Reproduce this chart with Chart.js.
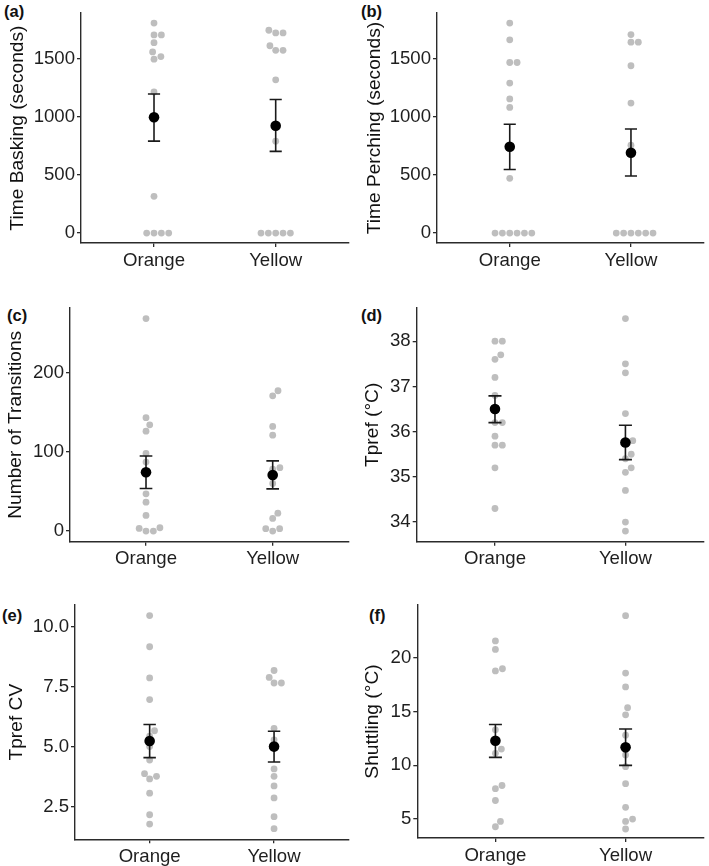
<!DOCTYPE html>
<html>
<head>
<meta charset="utf-8">
<script src="https://cdn.jsdelivr.net/npm/chart.js@4.4.1/dist/chart.umd.min.js"></script>
<style>
  body { margin: 0; background: #fff; width: 709px; height: 866px; position: relative; overflow: hidden; font-family: "Liberation Sans", Arial, sans-serif; }
  canvas { position: absolute; }
  .tag { position: absolute; font-weight: bold; font-size: 16.5px; line-height: 1; color: #111; }
</style>
</head>
<body>
<div class="tag" style="left:4px;top:3px">(a)</div>
<div class="tag" style="left:361px;top:3px">(b)</div>
<div class="tag" style="left:7px;top:307px">(c)</div>
<div class="tag" style="left:361px;top:307px">(d)</div>
<div class="tag" style="left:2px;top:607px">(e)</div>
<div class="tag" style="left:369px;top:607px">(f)</div>
<script>
const groups = ["Orange", "Yellow"];

// (a) time basking
const baskOrange = [1805, 1703, 1703, 1636, 1557, 1517, 1495, 1213, 316, 0, 0, 0, 0];
const baskYellow = [1743, 1720, 1720, 1610, 1571, 1571, 1317, 790, 0, 0, 0, 0, 0];
const baskMean = [995, 922];
const baskLow = [790, 702];
const baskHigh = [1195, 1148];
const baskTicks = [0, 500, 1000, 1500];

// (b) time perching
const perchOrange = [1805, 1661, 1466, 1466, 1289, 1153, 1080, 471, 0, 0, 0, 0, 0, 0];
const perchYellow = [1706, 1641, 1641, 1438, 1117, 756, 0, 0, 0, 0, 0, 0];
const perchMean = [742, 691];
const perchLow = [547, 491];
const perchHigh = [936, 894];
const perchTicks = [0, 500, 1000, 1500];

// (c) number of transitions
const transOrange = [268, 143, 134, 126, 98, 87, 47, 36.5, 19.7, 4.2, 3.4, 0, 0];
const transYellow = [177, 170.6, 132, 121, 80, 78, 60, 22.6, 16, 3, 3, 0];
const transMean = [74.2, 70.8];
const transLow = [53.7, 53.2];
const transHigh = [94.8, 88.5];
const transTicks = [0, 100, 200];

// (d) Tpref
const tprefOrange = [38.0, 38.0, 37.7, 37.6, 37.2, 36.8, 36.2, 36.2, 35.9, 35.7, 35.7, 35.2, 34.3];
const tprefYellow = [38.5, 37.5, 37.3, 36.4, 35.8, 35.8, 35.5, 35.4, 35.2, 35.1, 34.7, 34.0, 33.8];
const tprefMean = [36.5, 35.76];
const tprefLow = [36.2, 35.38];
const tprefHigh = [36.79, 36.14];
const tprefTicks = [34, 35, 36, 37, 38];

// (e) Tpref CV
const cvOrange = [10.48, 9.18, 7.88, 6.98, 5.68, 5.45, 5.02, 4.46, 3.89, 3.78, 3.67, 3.08, 2.18, 1.79];
const cvYellow = [8.19, 7.9, 7.67, 7.67, 5.78, 5.3, 4.09, 3.78, 3.38, 2.88, 2.1, 1.6];
const cvMean = [5.25, 5.02];
const cvLow = [4.56, 4.38];
const cvHigh = [5.94, 5.66];
const cvTicks = [2.5, 5.0, 7.5, 10.0];
const cvTickLabels = ["2.5", "5.0", "7.5", "10.0"];

// (f) shuttling
const shutOrange = [21.6, 20.8, 19.0, 18.8, 13.3, 12.4, 11.5, 11.1, 8.1, 7.8, 6.7, 4.75, 4.25];
const shutYellow = [23.95, 18.6, 17.3, 15.36, 14.7, 12.8, 10.95, 9.86, 8.27, 6.06, 4.97, 4.75, 4.04];
const shutMean = [12.28, 11.66];
const shutLow = [10.73, 9.98];
const shutHigh = [13.8, 13.37];
const shutTicks = [5, 10, 15, 20];

const TEXT = "#1e1e1e";
const AXIS = "#2b2b2b";
const DOT_GAP = 7.35; // px between jittered dot centres

const panels = [
  { title: "Time Basking (seconds)", sets: [baskOrange, baskYellow], mean: baskMean, low: baskLow, high: baskHigh,
    ticks: baskTicks, labels: baskTicks.map(String), min: -85, max: 1890,
    box: [0, 0, 354, 280], yW: 81, top: 10, right: 4, xH: 37, tPad: 6 },
  { title: "Time Perching (seconds)", sets: [perchOrange, perchYellow], mean: perchMean, low: perchLow, high: perchHigh,
    ticks: perchTicks, labels: perchTicks.map(String), min: -85, max: 1890,
    box: [354, 0, 355, 280], yW: 83, top: 10, right: 2, xH: 37, tPad: 9 },
  { title: "Number of Transitions", sets: [transOrange, transYellow], mean: transMean, low: transLow, high: transHigh,
    ticks: transTicks, labels: transTicks.map(String), min: -13.4, max: 281.4,
    box: [0, 280, 354, 290], yW: 70, top: 28, right: 4, xH: 28.3, tPad: 4.5 },
  { title: "Tpref (°C)", sets: [tprefOrange, tprefYellow], mean: tprefMean, low: tprefLow, high: tprefHigh,
    ticks: tprefTicks, labels: tprefTicks.map(String), min: 33.565, max: 38.735,
    box: [354, 280, 355, 290], yW: 62.7, top: 28, right: 2, xH: 28.3, tPad: 7.5 },
  { title: "Tpref CV", sets: [cvOrange, cvYellow], mean: cvMean, low: cvLow, high: cvHigh,
    ticks: cvTicks, labels: cvTickLabels, min: 1.156, max: 10.92,
    box: [0, 570, 354, 296], yW: 75, top: 35, right: 4, xH: 26.7, tPad: 5.5 },
  { title: "Shuttling (°C)", sets: [shutOrange, shutYellow], mean: shutMean, low: shutLow, high: shutHigh,
    ticks: shutTicks, labels: shutTicks.map(String), min: 3.2, max: 24.95,
    box: [354, 570, 355, 296], yW: 63.3, top: 35, right: 2, xH: 28, tPad: 7.5 }
];

// beeswarm: place points in ascending order, nearest free offset to the centre, right side first
function swarm(pys, d) {
  const order = pys.map((_, i) => i).sort((a, b) => pys[b] - pys[a]);
  const placed = [];
  const offs = new Array(pys.length).fill(0);
  order.forEach(i => {
    const y = pys[i];
    const cands = [0];
    placed.forEach(p => {
      const dy = Math.abs(p.y - y);
      if (dy < d) {
        const h = Math.sqrt(d * d - dy * dy);
        cands.push(p.x + h, p.x - h);
      }
    });
    let best = null;
    cands.forEach(c => {
      const ok = placed.every(p => Math.hypot(p.x - c, p.y - y) >= d - 1e-6);
      if (ok && (best === null || Math.abs(c) < Math.abs(best) - 1e-9)) best = c;
    });
    offs[i] = best;
    placed.push({ x: best, y });
  });
  return offs;
}

function segment(x0, y0, x1, y1) {
  return { data: [{ x: x0, y: y0 }, { x: x1, y: y1 }], showLine: true, borderColor: "#1a1a1a",
           borderWidth: 1.6, pointRadius: 0, order: 1 };
}

function makeChart(p) {
  const [left, top, w, h] = p.box;
  const cv = document.createElement("canvas");
  cv.width = w; cv.height = h;
  cv.style.left = left + "px"; cv.style.top = top + "px";
  document.body.appendChild(cv);

  const datasets = [];
  // grey individual points
  p.sets.forEach((vals, g) => {
    datasets.push({ data: vals.map(v => ({ x: g + 1, y: v })), pointRadius: 3.4,
                    backgroundColor: "#bebebe", borderWidth: 0, order: 2 });
  });
  // error bars
  const cap = 0.05;
  p.mean.forEach((m, g) => {
    const x = g + 1;
    datasets.push(segment(x, p.low[g], x, p.high[g]));
    datasets.push(segment(x - cap, p.high[g], x + cap, p.high[g]));
    datasets.push(segment(x - cap, p.low[g], x + cap, p.low[g]));
  });
  // means
  datasets.push({ data: p.mean.map((m, g) => ({ x: g + 1, y: m })), pointRadius: 5.3,
                  backgroundColor: "#000", borderWidth: 0, order: 0 });

  const gridOpts = { drawOnChartArea: false, drawTicks: true, tickLength: 4, color: AXIS, lineWidth: 1.3 };
  const borderOpts = { display: true, color: AXIS, width: 1.4 };
  const tickFont = { family: "Liberation Sans", size: 18.6 };

  const chart = new Chart(cv.getContext("2d"), {
    type: "scatter",
    data: { datasets },
    options: {
      responsive: false, animation: false, devicePixelRatio: 1, events: [],
      layout: { padding: { left: 0, top: p.top, right: p.right, bottom: 0 } },
      plugins: { legend: { display: false }, tooltip: { enabled: false } },
      scales: {
        x: {
          type: "linear", min: 0.4, max: 2.6,
          afterBuildTicks: s => { s.ticks = groups.map((_, i) => ({ value: i + 1 })); },
          afterFit: s => { s.height = p.xH; },
          ticks: { callback: (v, i) => groups[i], color: TEXT, font: tickFont, padding: 2.5, maxRotation: 0, autoSkip: false },
          grid: gridOpts, border: borderOpts
        },
        y: {
          type: "linear", min: p.min, max: p.max,
          afterBuildTicks: s => { s.ticks = p.ticks.map(v => ({ value: v })); },
          afterFit: s => { s.width = p.yW; },
          ticks: { callback: (v, i) => p.labels[i], color: TEXT, font: tickFont, padding: 2, autoSkip: false },
          title: { display: true, text: p.title, color: "#111",
                   font: { family: "Liberation Sans", size: 19.2 }, padding: { top: p.tPad, bottom: 0 } },
          grid: gridOpts, border: borderOpts
        }
      }
    }
  });

  // second pass: spread the grey dots using the laid-out scales
  const xs = chart.scales.x, ys = chart.scales.y;
  const unit = xs.getPixelForValue(2) - xs.getPixelForValue(1);
  p.sets.forEach((vals, g) => {
    const offs = swarm(vals.map(v => ys.getPixelForValue(v)), DOT_GAP);
    chart.data.datasets[g].data = vals.map((v, i) => ({ x: g + 1 + offs[i] / unit, y: v }));
  });
  chart.update("none");
  return chart;
}

panels.forEach(makeChart);
</script>
</body>
</html>
